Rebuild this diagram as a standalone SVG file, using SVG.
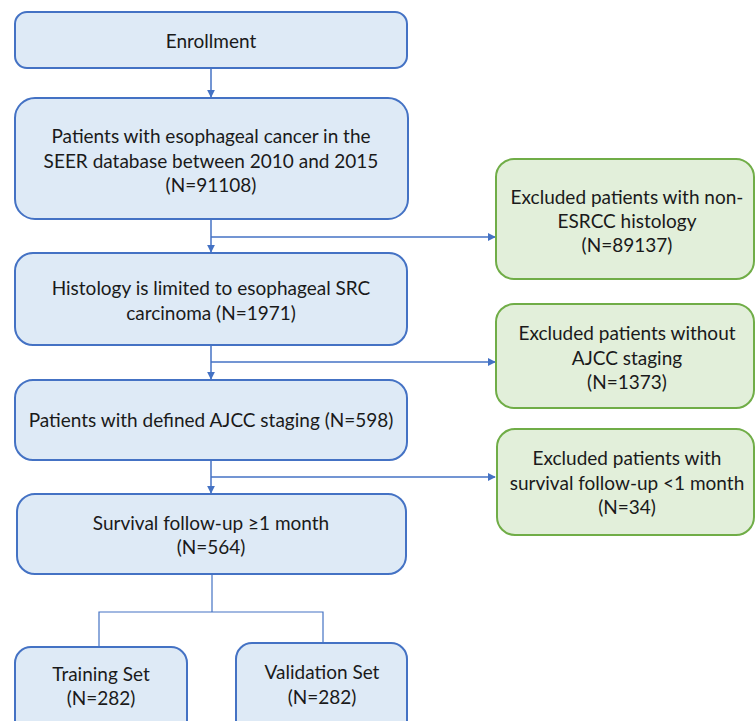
<svg xmlns="http://www.w3.org/2000/svg" width="756" height="721" viewBox="0 0 756 721">
<defs>
<marker id="ah" viewBox="0 0 10 10" refX="9" refY="5" markerWidth="8" markerHeight="8" orient="auto" markerUnits="userSpaceOnUse">
<path d="M0,0 L10,5 L0,10 z" fill="#4472C4"/>
</marker>
<style>
.b{fill:#DEEAF6;stroke:#4472C4;stroke-width:2}
.g{fill:#E2EFDA;stroke:#70AD47;stroke-width:2}
.t{font-family:Lato,"Liberation Sans",sans-serif;font-size:19px;fill:#1a1a1a;text-anchor:middle}
.c{fill:none;stroke:#4472C4;stroke-width:1.5}
.c2{fill:none;stroke:#4472C4;stroke-width:1.2}
</style>
</defs>
<rect width="756" height="721" fill="#fff"/>
<g id="connectors">
<path class="c" d="M211,68 V97" marker-end="url(#ah)"/>
<path class="c" d="M211,219 V252" marker-end="url(#ah)"/>
<path class="c" d="M211,237 H495" marker-end="url(#ah)"/>
<path class="c" d="M211,345 V379" marker-end="url(#ah)"/>
<path class="c" d="M211,362 H495" marker-end="url(#ah)"/>
<path class="c" d="M211,460 V493" marker-end="url(#ah)"/>
<path class="c" d="M211,477 H495" marker-end="url(#ah)"/>
<path class="c2" d="M212,574 V612 M99,647 V612 H323 V643"/>
</g>
<g id="n1"><rect class="b" x="15" y="12" width="392" height="56" rx="12"/><text class="t" x="211" y="48">Enrollment</text></g>
<g id="n2"><rect class="b" x="15" y="98" width="393" height="121" rx="20"/><text class="t" x="211" y="143">Patients with esophageal cancer in the</text><text class="t" x="211" y="168">SEER database between 2010 and 2015</text><text class="t" x="211" y="192">(N=91108)</text></g>
<g id="n3"><rect class="b" x="15" y="253" width="392" height="92" rx="18"/><text class="t" x="211" y="295">Histology is limited to esophageal SRC</text><text class="t" x="211" y="320">carcinoma (N=1971)</text></g>
<g id="n4"><rect class="b" x="15" y="380" width="392" height="80" rx="18"/><text class="t" x="211" y="427">Patients with defined AJCC staging (N=598)</text></g>
<g id="n5"><rect class="b" x="17" y="494" width="389" height="80" rx="18"/><text class="t" x="211" y="530">Survival follow-up ≥1 month</text><text class="t" x="211" y="554">(N=564)</text></g>
<g id="n6"><rect class="b" x="15" y="647" width="172" height="90" rx="16"/><text class="t" x="101" y="681">Training Set</text><text class="t" x="101" y="705">(N=282)</text></g>
<g id="n7"><rect class="b" x="236" y="643" width="171" height="94" rx="16"/><text class="t" x="322" y="679">Validation Set</text><text class="t" x="322" y="704">(N=282)</text></g>
<g id="e1"><rect class="g" x="496" y="159" width="258" height="120" rx="18"/><text class="t" x="627" y="204">Excluded patients with non-</text><text class="t" x="627" y="228">ESRCC histology</text><text class="t" x="627" y="252">(N=89137)</text></g>
<g id="e2"><rect class="g" x="496" y="304" width="258" height="104" rx="18"/><text class="t" x="627" y="340">Excluded patients without</text><text class="t" x="627" y="365">AJCC staging</text><text class="t" x="627" y="389">(N=1373)</text></g>
<g id="e3"><rect class="g" x="497" y="429" width="257" height="106" rx="18"/><text class="t" x="627" y="465">Excluded patients with</text><text class="t" x="627" y="490">survival follow-up &lt;1 month</text><text class="t" x="627" y="514">(N=34)</text></g>
</svg>
